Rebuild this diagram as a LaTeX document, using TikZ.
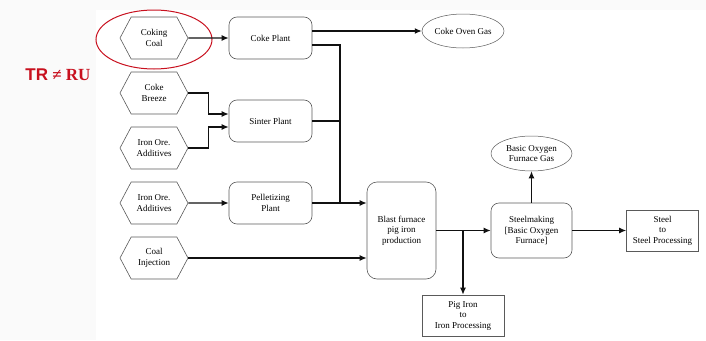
\documentclass[tikz,border=0pt]{standalone}
\usepackage{fontspec}
\setmainfont{Liberation Serif}
\newfontfamily\marksans{Liberation Sans}
\usepackage{xcolor}
\usepackage{tikz}
\usetikzlibrary{calc,arrows.meta,shapes.geometric,shapes.symbols}
\definecolor{boxLine}{HTML}{5A5A5A}
\definecolor{flowBlack}{HTML}{111111}
\definecolor{markRed}{HTML}{C8101E}
\definecolor{pageGrey}{HTML}{FAFAFA}
\tikzset{
  feedhex/.style={signal, signal to=east and west, signal pointer angle=124, draw=boxLine, fill=white, line width=0.6pt, align=center, font=\fontsize{9}{10.5}\selectfont, minimum width=68pt, minimum height=42pt, inner sep=1pt},
  plantbox/.style={rectangle, rounded corners=8pt, draw=boxLine, fill=white, line width=0.6pt, align=center, font=\fontsize{9}{10.5}\selectfont, minimum width=83pt, minimum height=42pt, inner sep=2pt},
  outbox/.style={rectangle, draw=boxLine, fill=white, line width=0.6pt, align=center, font=\fontsize{9}{10.5}\selectfont, minimum width=72pt, minimum height=41pt, inner sep=2pt},
  gasnode/.style={ellipse, draw=boxLine, fill=white, line width=0.5pt, align=center, font=\fontsize{9}{10.5}\selectfont, inner sep=0pt},
  flow/.style={-{Latex[length=7pt,width=6pt]}, line width=1.2pt, draw=flowBlack},
  flowline/.style={line width=1.2pt, draw=flowBlack},
  ring/.style={draw=markRed, line width=1pt},
}

\begin{document}
\begin{tikzpicture}[x=1pt,y=-1pt]
      \useasboundingbox (0,0) rectangle (706,340);
      % faint page margins
      \fill[pageGrey] (0,0) rectangle (706,10);
      \fill[pageGrey] (0,10) rectangle (96,340);

      % raw materials
      \node[feedhex] (coal) at (154,38) {Coking\\Coal};
      \node[feedhex] (breeze) at (154,93) {Coke\\Breeze};
      \node[feedhex] (oreA) at (154,148) {Iron Ore.\\Additives};
      \node[feedhex] (oreB) at (154,203) {Iron Ore.\\Additives};
      \node[feedhex] (inj) at (154,258) {Coal\\Injection};

      % plants
      \node[plantbox] (coke) at (270.5,38) {Coke Plant};
      \node[plantbox] (sinter) at (270.5,121) {Sinter Plant};
      \node[plantbox] (pellet) at (270.5,203) {Pelletizing\\Plant};
      \node[plantbox, rounded corners=10pt, minimum width=69pt, minimum height=97pt]
      (blast) at (401.5,230.5) {Blast furnace\\pig iron\\production};
      \node[plantbox, minimum width=81pt, minimum height=55pt]
      (bof) at (531.5,230.5) {Steelmaking\\{[Basic Oxygen}\\Furnace]};

      % products
      \node[outbox, minimum width=82pt] (pig) at (463,315.5) {Pig Iron\\to\\Iron Processing};
      \node[outbox] (steel) at (662.5,230.5) {Steel\\to\\Steel Processing};
      \node[gasnode, minimum width=82pt, minimum height=34pt] (cog) at (463,31) {Coke Oven Gas};
      \node[gasnode, minimum width=81pt, minimum height=35pt] (bofgas) at (531.5,153.5) {Basic Oxygen\\Furnace Gas};

      % highlight
      \draw[ring] ($(coal)+(0,1.5)$) ellipse [x radius=58, y radius=29.5];
      \node[font=\bfseries\fontsize{17}{20}\selectfont, text=markRed]
      (tag) at (58,75) {{\marksans TR} ≠ RU};

      \coordinate (jn) at (340,203);
      \coordinate (br) at (463,230.5);

      \draw[flow] (coal) -- (coke);
      \draw[flow] ([yshift=7pt]coke.east) -- (cog.west);
      \draw[flowline] ([yshift=-7pt]coke.east) -| (jn);
      \draw[flowline] (sinter.east) -- (sinter.east -| jn);
      \draw[flow] (breeze.east) -- ++(20,0) |- ([yshift=7pt]sinter.west);
      \draw[flow] (oreA.east) -- ++(20,0) |- ([yshift=-6pt]sinter.west);
      \draw[flow] (oreB) -- (pellet);
      \draw[flow] (pellet.east) -- (pellet.east -| blast.west);
      \draw[flow] (inj.east) -- (inj.east -| blast.west);
      \draw[flow] (blast) -- (bof);
      \draw[flow] (br) -- (pig.north);
      \draw[flow] (bof) -- (bofgas);
      \draw[flow] (bof) -- (steel);
    \end{tikzpicture}
\end{document}
